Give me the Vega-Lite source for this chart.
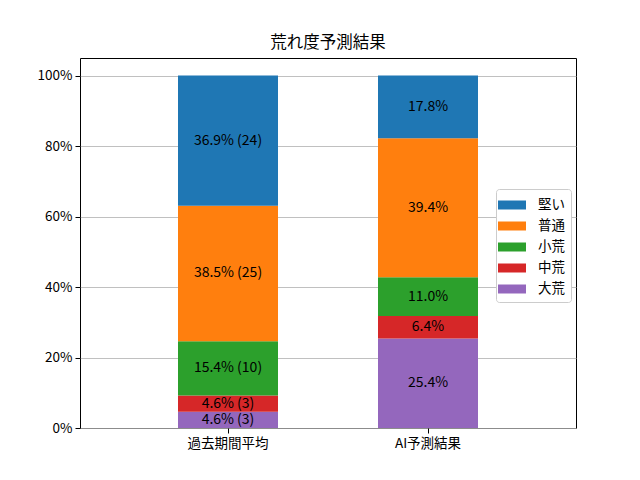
{
  "$schema": "https://vega.github.io/schema/vega-lite/v6.json",
  "autosize": {"type": "none"},
  "width": 496,
  "height": 370,
  "padding": {"left": 80, "top": 58, "right": 64, "bottom": 53},
  "background": "white",
  "title": {
    "text": "荒れ度予測結果",
    "fontSize": 16.5,
    "fontWeight": "normal",
    "color": "black",
    "offset": 7,
    "anchor": "middle"
  },
  "config": {
    "font": "Noto Sans CJK JP",
    "view": {"stroke": "black", "strokeWidth": 1},
    "axis": {
      "domain": false,
      "tickColor": "black",
      "tickSize": 5,
      "labelColor": "black",
      "labelFontSize": 13.5,
      "labelPadding": 3,
      "title": null
    },
    "legend": {
      "labelFontSize": 13.5,
      "labelColor": "black"
    }
  },
  "data": {
    "values": [
      {"group": "過去期間平均", "category": "大荒", "rank": 1, "value": 0.046, "label": "4.6% (3)"},
      {"group": "過去期間平均", "category": "中荒", "rank": 2, "value": 0.046, "label": "4.6% (3)"},
      {"group": "過去期間平均", "category": "小荒", "rank": 3, "value": 0.154, "label": "15.4% (10)"},
      {"group": "過去期間平均", "category": "普通", "rank": 4, "value": 0.385, "label": "38.5% (25)"},
      {"group": "過去期間平均", "category": "堅い", "rank": 5, "value": 0.369, "label": "36.9% (24)"},
      {"group": "AI予測結果", "category": "大荒", "rank": 1, "value": 0.254, "label": "25.4%"},
      {"group": "AI予測結果", "category": "中荒", "rank": 2, "value": 0.064, "label": "6.4%"},
      {"group": "AI予測結果", "category": "小荒", "rank": 3, "value": 0.110, "label": "11.0%"},
      {"group": "AI予測結果", "category": "普通", "rank": 4, "value": 0.394, "label": "39.4%"},
      {"group": "AI予測結果", "category": "堅い", "rank": 5, "value": 0.178, "label": "17.8%"}
    ]
  },
  "encoding": {
    "x": {
      "field": "group",
      "type": "nominal",
      "sort": ["過去期間平均", "AI予測結果"],
      "scale": {"paddingInner": 0.5, "paddingOuter": 0.49},
      "axis": {"labelAngle": 0, "grid": false}
    },
    "y": {
      "field": "value",
      "type": "quantitative",
      "stack": "zero",
      "scale": {"domain": [0, 1.05], "nice": false},
      "axis": {
        "format": ".0%",
        "values": [0, 0.2, 0.4, 0.6, 0.8, 1],
        "grid": true,
        "gridColor": "#b0b0b0",
        "gridWidth": 0.8
      }
    },
    "order": {"field": "rank", "type": "quantitative"}
  },
  "layer": [
    {
      "mark": {"type": "bar"},
      "encoding": {
        "color": {
          "field": "category",
          "type": "nominal",
          "scale": {
            "domain": ["堅い", "普通", "小荒", "中荒", "大荒"],
            "range": ["#1f77b4", "#ff7f0e", "#2ca02c", "#d62728", "#9467bd"]
          },
          "legend": {
            "title": null,
            "orient": "none",
            "legendX": 416,
            "legendY": 131,
            "symbolType": "M-1.4,-0.45H1.4V0.45H-1.4Z",
            "symbolSize": 400,
            "symbolStrokeWidth": 0,
            "symbolOpacity": 1,
            "labelOffset": 16,
            "rowPadding": 4,
            "padding": 6,
            "strokeColor": "#cccccc",
            "fillColor": "white",
            "cornerRadius": 3
          }
        }
      }
    },
    {
      "mark": {"type": "text", "fontSize": 14, "color": "black"},
      "encoding": {
        "y": {
          "field": "value",
          "type": "quantitative",
          "stack": "zero",
          "bandPosition": 0.5
        },
        "text": {"field": "label"}
      }
    }
  ]
}
